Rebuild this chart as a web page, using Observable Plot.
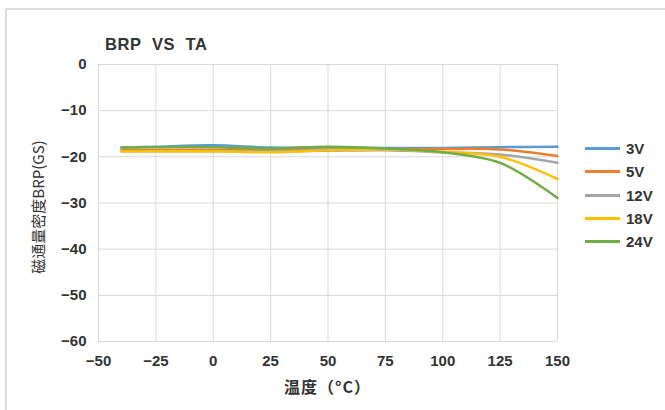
<!DOCTYPE html>
<html>
<head>
<meta charset="utf-8">
<script src="https://cdn.jsdelivr.net/npm/d3@7"></script>
<script src="https://cdn.jsdelivr.net/npm/@observablehq/plot@0.6"></script>
<style>
  html, body { margin: 0; padding: 0; background: #fff; }
  #wrap { position: relative; width: 665px; height: 410px; overflow: hidden; font-family: "Liberation Sans", Arial, sans-serif; }
  #frame { position: absolute; left: 5px; top: 8px; width: 700px; height: 500px; border-left: 2px solid #dcdcdc; border-top: 2px solid #dcdcdc; }
  #chart { position: absolute; left: 0; top: 0; }
  .title { position: absolute; left: 105px; top: 35px; font-size: 16.5px; font-weight: bold; color: #333; letter-spacing: 0.6px; }
  .xlabel { position: absolute; left: 0; width: 655px; text-align: center; top: 374px; font-size: 16px; font-weight: bold; color: #333; font-family: "Noto Sans CJK SC", sans-serif; letter-spacing: 1px; }
  .ylabel { position: absolute; left: 37px; top: 207px; transform: translate(-50%, -50%) rotate(-90deg); white-space: nowrap; font-size: 15px; color: #333; font-family: "Noto Sans CJK SC", sans-serif; }
  .legend { position: absolute; left: 585px; top: 137px; }
  .legend .item { display: flex; align-items: center; height: 23.3px; }
  .legend .swatch { width: 35px; height: 3px; margin-right: 6px; }
  .legend .lab { font-size: 15px; font-weight: bold; color: #333; }
</style>
</head>
<body>
<div id="wrap">
  <div id="frame"></div>
  <div id="chart"></div>
  <div class="title">BRP&nbsp; VS&nbsp; TA</div>
  <div class="ylabel">磁通量密度BRP(GS)</div>
  <div class="xlabel">温度（°C）</div>
  <div class="legend" id="legend"></div>
</div>
<script>
const temps = [-40, -25, 0, 25, 50, 75, 100, 125, 150];
const seriesNames = ["3V", "5V", "12V", "18V", "24V"];
const v3  = [-18.0, -17.8, -17.5, -18.0, -18.0, -18.1, -18.1, -17.9, -17.8];
const v5  = [-18.5, -18.5, -18.5, -18.6, -18.5, -18.3, -18.3, -18.4, -19.8];
const v12 = [-18.8, -18.8, -18.8, -18.8, -18.7, -18.6, -19.0, -19.5, -21.3];
const v18 = [-18.8, -18.8, -18.8, -19.0, -18.6, -18.4, -18.9, -20.0, -24.8];
const v24 = [-18.0, -17.9, -17.9, -18.2, -17.8, -18.2, -19.0, -21.3, -28.9];
const colors = ["#5B9BD5", "#ED7D31", "#A5A5A5", "#FFC000", "#70AD47"];
const xTicks = [-50, -25, 0, 25, 50, 75, 100, 125, 150];
const yTicks = [0, -10, -20, -30, -40, -50, -60];

const allValues = [v3, v5, v12, v18, v24];
const data = [];
seriesNames.forEach((s, i) => temps.forEach((t, j) => data.push({series: s, t, v: allValues[i][j]})));

const chart = Plot.plot({
  width: 665,
  height: 410,
  marginLeft: 98,
  marginRight: 108,
  marginTop: 64,
  marginBottom: 69,
  style: {fontFamily: "'Liberation Sans', Arial, sans-serif", fontSize: "15px", fontWeight: "bold", color: "#333", background: "transparent"},
  x: {domain: [-50, 150], ticks: xTicks, label: null},
  y: {domain: [-60, 0], ticks: yTicks, label: null},
  color: {domain: seriesNames, range: colors},
  marks: [
    Plot.gridX(xTicks, {stroke: "#d9d9d9", strokeOpacity: 1, strokeWidth: 1}),
    Plot.gridY(yTicks, {stroke: "#d9d9d9", strokeOpacity: 1, strokeWidth: 1}),
    Plot.axisX(xTicks, {tickSize: 0, tickPadding: 14, label: null}),
    Plot.axisY(yTicks, {tickSize: 0, tickPadding: 12, label: null}),
    Plot.line(data, {x: "t", y: "v", z: "series", stroke: "series", strokeWidth: 2.5, curve: "catmull-rom"})
  ]
});
document.getElementById("chart").appendChild(chart);

const leg = document.getElementById("legend");
seriesNames.forEach((s, i) => {
  const it = document.createElement("div");
  it.className = "item";
  it.innerHTML = `<div class="swatch" style="background:${colors[i]}"></div><span class="lab">${s}</span>`;
  leg.appendChild(it);
});
</script>
</body>
</html>
